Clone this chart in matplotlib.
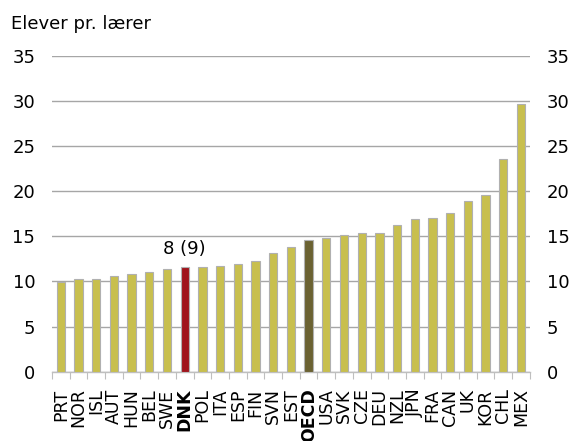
import matplotlib.pyplot as plt
import numpy as np

# elever pr. lærer, sorteret
lande = ["PRT", "NOR", "ISL", "AUT", "HUN", "BEL", "SWE", "DNK", "POL", "ITA",
         "ESP", "FIN", "SVN", "EST", "OECD", "USA", "SVK", "CZE", "DEU", "NZL",
         "JPN", "FRA", "CAN", "UK", "KOR", "CHL", "MEX"]
elever = [9.9, 10.3, 10.3, 10.6, 10.8, 11.0, 11.4, 11.6, 11.6, 11.7,
          11.9, 12.3, 13.2, 13.8, 14.6, 14.8, 15.1, 15.4, 15.4, 16.3,
          16.9, 17.0, 17.6, 18.9, 19.6, 23.6, 29.6]
fremhaev = {"DNK": "#A0141C", "OECD": "#6B6232"}
dnk_label = "8 (9)"

farver = [fremhaev.get(l, "#C8BF4E") for l in lande]
x = np.arange(len(lande))

fig = plt.figure(figsize=(5.71, 4.41), dpi=100)
ax = fig.add_axes([0.091, 0.157, 0.837, 0.717])

ax.bar(x, elever, width=0.47, color=farver, edgecolor="#B0B0B0", linewidth=0.8, zorder=3)

ax.set_ylim(0, 35)
ax.set_xlim(-0.5, len(lande) - 0.5)
ax.set_yticks(range(0, 36, 5))
ax.grid(axis="y", color="#A6A6A6", linewidth=1, zorder=0)
ax.tick_params(axis="y", length=0, labelsize=13, colors="black", pad=12)

for s in ["top", "left", "right"]:
    ax.spines[s].set_visible(False)
ax.spines["bottom"].set_color("#BFBFBF")
ax.spines["bottom"].set_linewidth(1)

# tick marks between the categories, labels centred on bars
ax.set_xticks(np.arange(-0.5, len(lande), 1.0))
ax.set_xticklabels([])
ax.tick_params(axis="x", which="major", length=5, color="#BFBFBF")
ax.set_xticks(x, minor=True)
ax.set_xticklabels(lande, minor=True, rotation=90, fontsize=12.5)
ax.tick_params(axis="x", which="minor", length=0, pad=12)
for t in ax.get_xticklabels(minor=True):
    if t.get_text() in fremhaev:
        t.set_fontweight("bold")

ax2 = ax.twinx()
ax2.set_ylim(0, 35)
ax2.set_yticks(range(0, 36, 5))
ax2.tick_params(axis="y", length=0, labelsize=13, pad=12)
for s in ["top", "left", "right", "bottom"]:
    ax2.spines[s].set_visible(False)

i = lande.index("DNK")
ax.text(x[i], elever[i] + 1.0, dnk_label, ha="center", va="bottom", fontsize=13)

fig.text(0.02, 0.945, "Elever pr. lærer", fontsize=13, ha="left", va="center")

fig.savefig("out.png", dpi=100)
